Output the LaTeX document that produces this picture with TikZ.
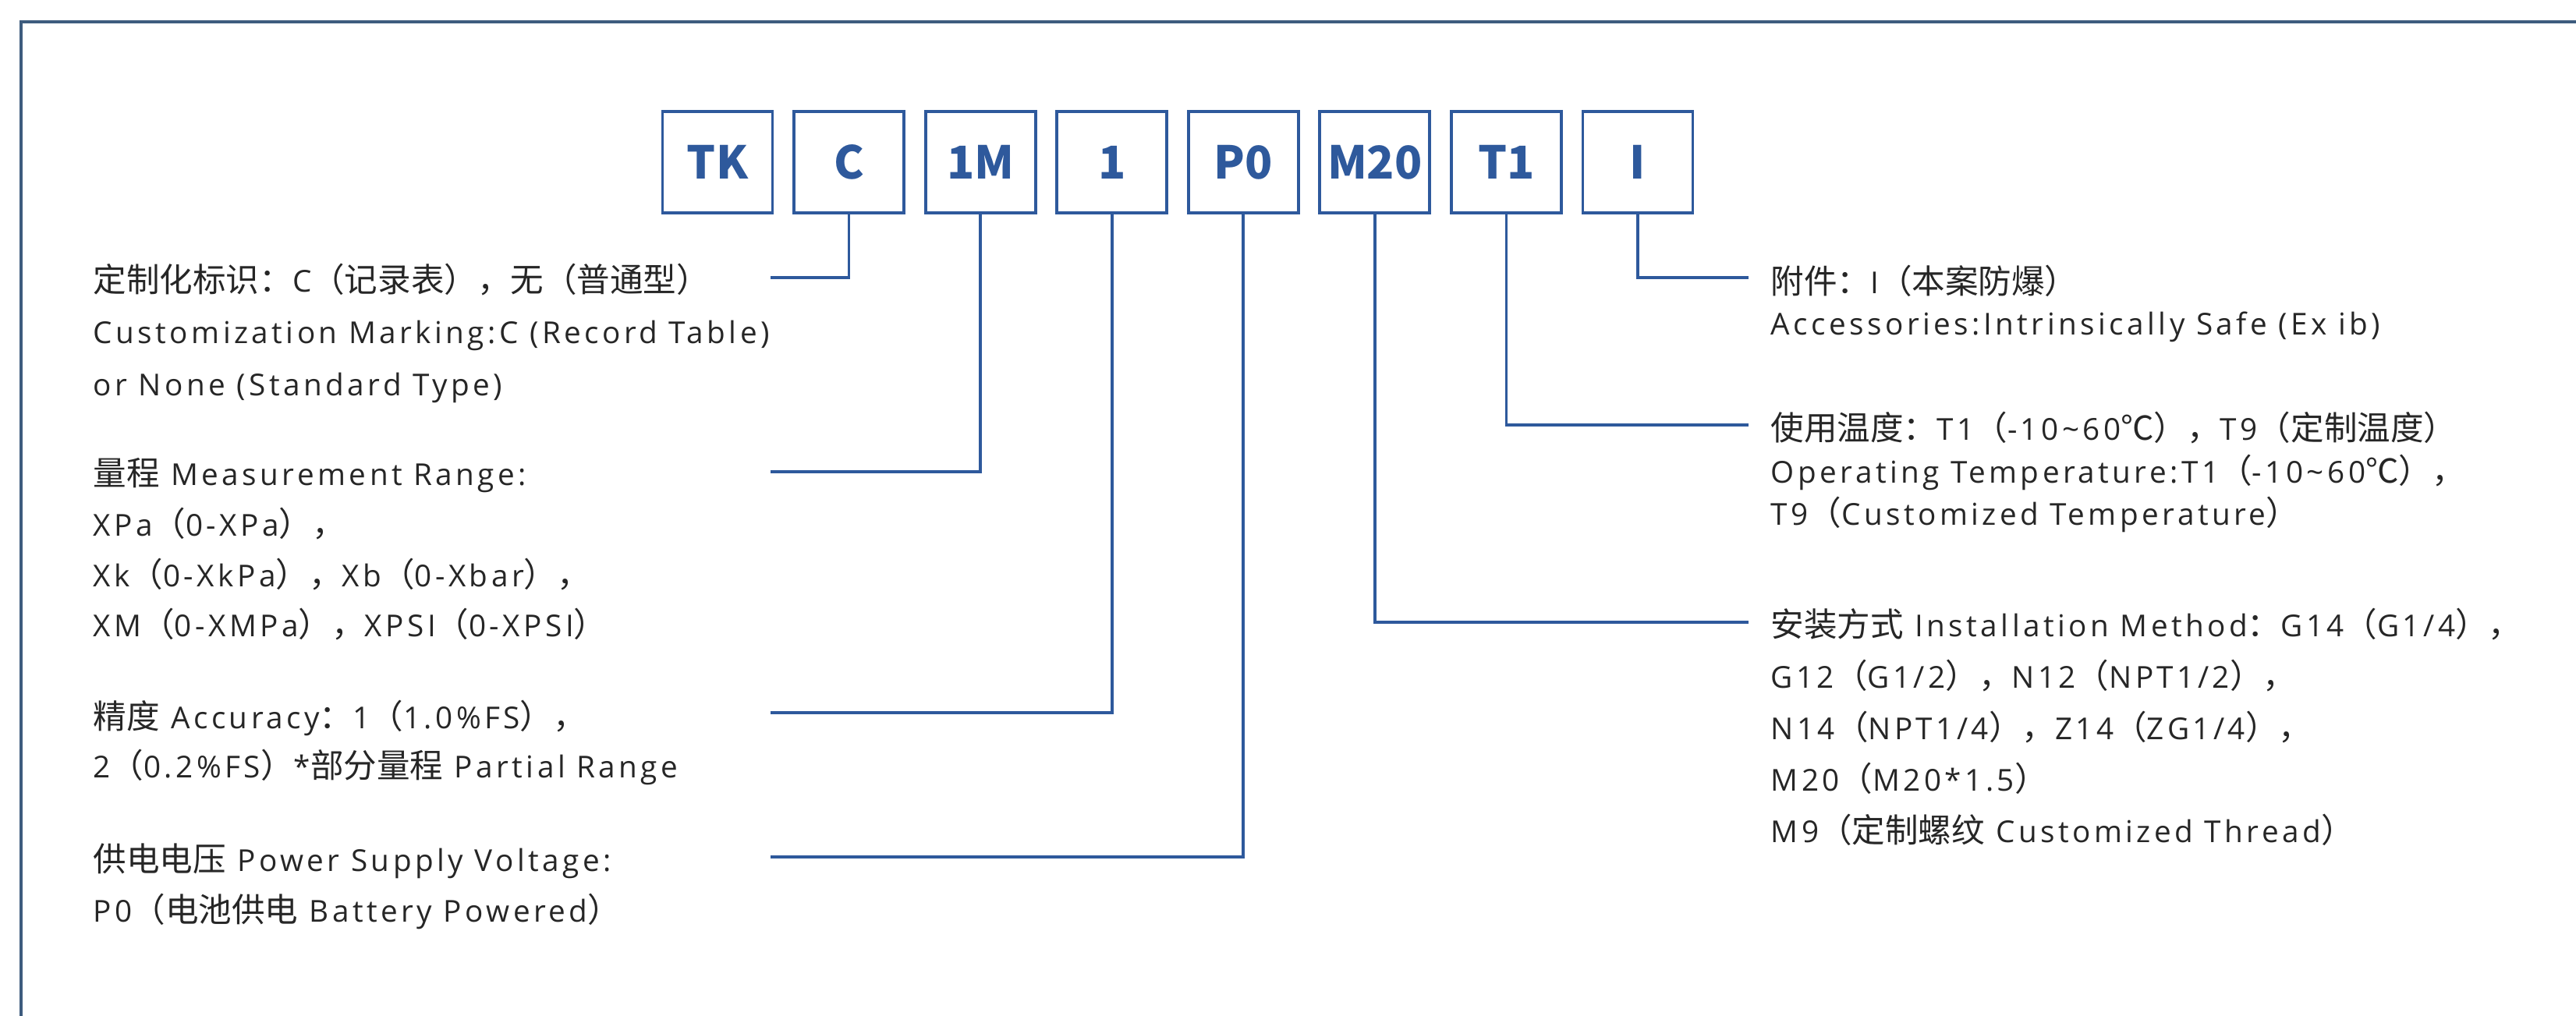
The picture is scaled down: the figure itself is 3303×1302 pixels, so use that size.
\documentclass[tikz,border=0pt]{standalone}
\usepackage{fontspec}
\setmainfont{Open Sans}[LetterSpace=11.5]
\newfontfamily\cjkfont{Noto Sans CJK SC}[Scale=1.1]
\newfontfamily\codefont{Noto Sans CJK SC}
\newcommand\zh[1]{{\cjkfont #1}}
\newcommand\fwlp{\zh{（}}
\newcommand\fwrp{\zh{）}}
\newcommand\fwcomma{\zh{，}}
\newcommand\fwcolon{\zh{：}}
\usetikzlibrary{positioning}
\definecolor{codeblue}{RGB}{46,89,156}
\definecolor{framegray}{RGB}{62,92,126}
\definecolor{textgray}{RGB}{38,38,38}

\begin{document}
\begin{tikzpicture}[
  x=0.01cm, y=-0.01cm,
  node distance=2.36mm,
  codebox/.style={draw=codeblue, line width=1.1pt, minimum width=1.41cm,
    minimum height=1.30cm, inner sep=0pt, text=codeblue,
    font=\codefont\fontsize{16.5}{16.5}\selectfont\bfseries},
  link/.style={draw=codeblue, line width=1.05pt},
  frameline/.style={draw=framegray, line width=1.4pt},
  desc/.style={anchor=north west, align=left, inner sep=0pt, text=textgray},
  wide/.style={font=\fontsize{11}{19}\selectfont},
  tight/.style={font=\fontsize{11}{15.3}\selectfont}
  ]

\useasboundingbox (0,0) rectangle (3303,1302);
\fill[white] (0,0) rectangle (3303,1302);

% outer frame
\draw[frameline] (27,1320) -- (27,28) -- (3320,28);

% model code boxes
\node[codebox] (bTK) at (920,208) {TK};
\node[codebox, right=of bTK] (bC) {C};
\node[codebox, right=of bC] (b1M) {1M};
\node[codebox, right=of b1M] (b1) {1};
\node[codebox, right=of b1] (bP0) {P0};
\node[codebox, right=of bP0] (bM20) {M20};
\node[codebox, right=of bM20] (bT1) {T1};
\node[codebox, right=of bT1] (bI) {I};

% left descriptions
\node[desc, wide] (tC) at (119,337) {\zh{定制化标识：}C\zh{（记录表），无（普通型）}\\
  Customization Marking:C (Record Table)\\
  or None (Standard Type)};
\node[desc, wide, font=\fontsize{11}{18.4}\selectfont] (t1M) at (119,587) {\zh{量程} Measurement Range:\\
  XPa\fwlp 0-XPa\fwrp\fwcomma\\
  Xk\fwlp 0-XkPa\fwrp\fwcomma Xb\fwlp 0-Xbar\fwrp\fwcomma\\
  XM\fwlp 0-XMPa\fwrp\fwcomma XPSI\fwlp 0-XPSI\fwrp};
\node[desc, wide, font=\fontsize{11}{18}\selectfont] (t1) at (119,897) {\zh{精度} Accuracy\fwcolon 1\fwlp 1.0\%FS\fwrp\fwcomma\\
  2\fwlp 0.2\%FS\fwrp *\zh{部分量程} Partial Range};
\node[desc, wide, font=\fontsize{11}{18.4}\selectfont] (tP0) at (119,1081) {\zh{供电电压} Power Supply Voltage:\\
  P0\fwlp\zh{电池供电} Battery Powered\fwrp};

% right descriptions
\node[desc, tight] (tI) at (2270,339) {\zh{附件：}I\zh{（本案防爆）}\\
  Accessories:Intrinsically Safe (Ex ib)};
\node[desc, tight, font=\fontsize{11}{15.6}\selectfont] (tT1) at (2270,527) {\zh{使用温度：}T1\fwlp -10\textasciitilde 60\zh{℃}\fwrp\fwcomma T9\zh{（定制温度）}\\
  Operating Temperature:T1\fwlp -10\textasciitilde 60\zh{℃}\fwrp\fwcomma\\
  T9\fwlp Customized Temperature\fwrp};
\node[desc, wide, font=\fontsize{11}{18.8}\selectfont] (tM20) at (2270,779) {\zh{安装方式} Installation Method\fwcolon G14\fwlp G1/4\fwrp\fwcomma\\
  G12\fwlp G1/2\fwrp\fwcomma N12\fwlp NPT1/2\fwrp\fwcomma\\
  N14\fwlp NPT1/4\fwrp\fwcomma Z14\fwlp ZG1/4\fwrp\fwcomma\\
  M20\fwlp M20*1.5\fwrp\\
  M9\fwlp\zh{定制螺纹} Customized Thread\fwrp};

% connector ends
\coordinate (eC) at (988,356);
\coordinate (e1M) at (988,605);
\coordinate (e1) at (988,914);
\coordinate (eP0) at (988,1099);
\coordinate (eI) at (2242,356);
\coordinate (eT1) at (2242,545);
\coordinate (eM20) at (2242,798);

% connectors
\draw[link] (bC.south) |- (eC);
\draw[link] (b1M.south) |- (e1M);
\draw[link] (b1.south) |- (e1);
\draw[link] (bP0.south) |- (eP0);
\draw[link] (bM20.south) |- (eM20);
\draw[link] (bT1.south) |- (eT1);
\draw[link] (bI.south) |- (eI);

\end{tikzpicture}
\end{document}
